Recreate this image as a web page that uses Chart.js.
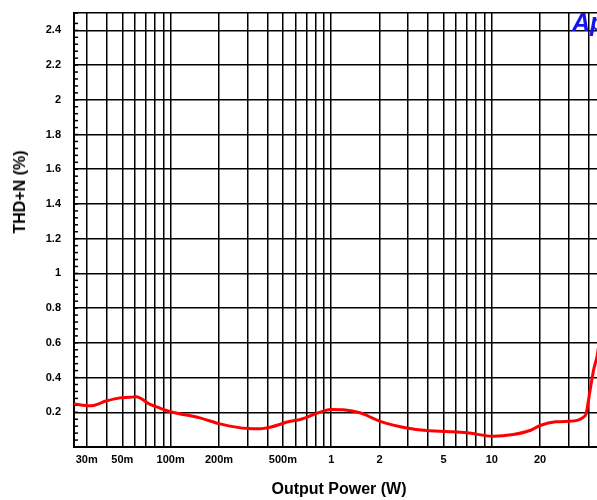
<!DOCTYPE html>
<html>
<head>
<meta charset="utf-8">
<script src="https://cdn.jsdelivr.net/npm/chart.js@4"></script>
<style>
  html, body { margin: 0; padding: 0; overflow: hidden; background: #fff; }
  #wrap { position: relative; width: 620px; height: 500px; }
  #ytitle {
    position: absolute; left: 20px; top: 192px;
    transform: translate(-50%, -50%) rotate(-90deg);
    font: bold 16px "Liberation Sans", Arial, sans-serif; white-space: nowrap; color: #000;
  }
  #logo {
    position: absolute; left: 572px; top: 10px;
    font: italic bold 25px "Liberation Sans", Arial, sans-serif; line-height: 1; color: #1414f0;
  }
</style>
</head>
<body>
<div id="wrap">
  <canvas id="chart" width="620" height="500"></canvas>
  <div id="ytitle">THD+N (%)</div>
  <div id="logo">Ap</div>
</div>
<script>
// data
const power = [0.025, 0.0315, 0.04, 0.0484, 0.055, 0.061, 0.0744, 0.0818, 0.1,
  0.152, 0.203, 0.303, 0.36, 0.416, 0.555, 0.64,
  1.01, 1.19, 1.51, 2.02, 3.01, 3.94, 5.25, 7.0,
  10.2, 13.6, 17.3, 20, 25, 30, 38.2, 41.0, 43.1, 45.4, 50];
const thd = [0.248, 0.237, 0.266, 0.283, 0.286, 0.289, 0.245, 0.231, 0.203,
  0.168, 0.133, 0.106, 0.105, 0.114, 0.148, 0.158,
  0.216, 0.214, 0.197, 0.148, 0.108, 0.095, 0.089, 0.082,
  0.062, 0.072, 0.095, 0.124, 0.145, 0.148, 0.18, 0.33, 0.445, 0.53, 0.8];

// x grid lines and labels
const xGrid = [0.03, 0.04, 0.05, 0.06, 0.07, 0.08, 0.09,
  0.1, 0.2, 0.3, 0.4, 0.5, 0.6, 0.7, 0.8, 0.9,
  1, 2, 3, 4, 5, 6, 7, 8, 9,
  10, 20, 30, 40, 50];
const xLabelValues = [0.03, 0.05, 0.1, 0.2, 0.5, 1, 2, 5, 10, 20, 50];
const xLabelTexts = ["30m", "50m", "100m", "200m", "500m", "1", "2", "5", "10", "20", "50"];

const tickFont = { family: "'Liberation Sans', Arial, sans-serif", size: 11, weight: "bold" };

function isMajor(v) {
  const r = v / 0.2;
  return Math.abs(r - Math.round(r)) < 1e-6;
}

// short inside ticks on the left axis
const minorTicks = {
  id: "minorTicks",
  beforeDatasetsDraw(chart) {
    const y = chart.scales.y;
    const ctx = chart.ctx;
    const left = chart.chartArea.left;
    ctx.save();
    ctx.strokeStyle = "#000";
    ctx.lineWidth = 1.5;
    y.ticks.forEach((t) => {
      const py = y.getPixelForValue(t.value);
      ctx.beginPath();
      ctx.moveTo(left, py);
      ctx.lineTo(left + 4, py);
      ctx.stroke();
    });
    ctx.restore();
  },
};

const ctx = document.getElementById("chart").getContext("2d");
new Chart(ctx, {
  type: "line",
  data: {
    datasets: [{
      data: power.map((p, i) => ({ x: p, y: thd[i] })),
      borderColor: "#ff0000",
      borderWidth: 3,
      pointRadius: 0,
      fill: false,
      cubicInterpolationMode: "monotone",
    }],
  },
  options: {
    responsive: false,
    animation: false,
    layout: { padding: { left: 0, top: 13, right: 16, bottom: 0 } },
    plugins: { legend: { display: false }, tooltip: { enabled: false } },
    scales: {
      x: {
        type: "logarithmic",
        min: 0.025,
        max: 50,
        afterBuildTicks: (scale) => { scale.ticks = xGrid.map((v) => ({ value: v })); },
        afterFit: (scale) => { scale.height = 53; },
        grid: { color: "#000", lineWidth: 1.5, drawTicks: false },
        border: { display: true, color: "#000", width: 2 },
        ticks: {
          autoSkip: false,
          maxRotation: 0,
          padding: 6,
          color: "#000",
          font: tickFont,
          callback: (value) => {
            const i = xLabelValues.findIndex((v) => Math.abs(v - value) < 1e-9);
            return i >= 0 ? xLabelTexts[i] : "";
          },
        },
        title: {
          display: true,
          text: "Output Power (W)",
          color: "#000",
          font: { family: "'Liberation Sans', Arial, sans-serif", size: 16, weight: "bold" },
          padding: { top: 0, bottom: 1 },
        },
      },
      y: {
        min: 0,
        max: 2.5,
        afterFit: (scale) => {
          scale.width = 74;
          scale.paddingTop = 0;
          scale.paddingBottom = 0;
        },
        grid: {
          drawTicks: false,
          lineWidth: 1.5,
          color: (c) => (c.tick && (isMajor(c.tick.value) || c.tick.value >= 2.5) ? "#000" : "rgba(0,0,0,0)"),
        },
        border: { display: true, color: "#000", width: 2 },
        ticks: {
          stepSize: 0.04,
          autoSkip: false,
          padding: 13,
          color: "#000",
          font: tickFont,
          callback: (value) => (isMajor(value) && value > 0 && value < 2.5 ? String(Math.round(value * 10) / 10) : ""),
        },
      },
    },
  },
  plugins: [minorTicks],
});
</script>
</body>
</html>
